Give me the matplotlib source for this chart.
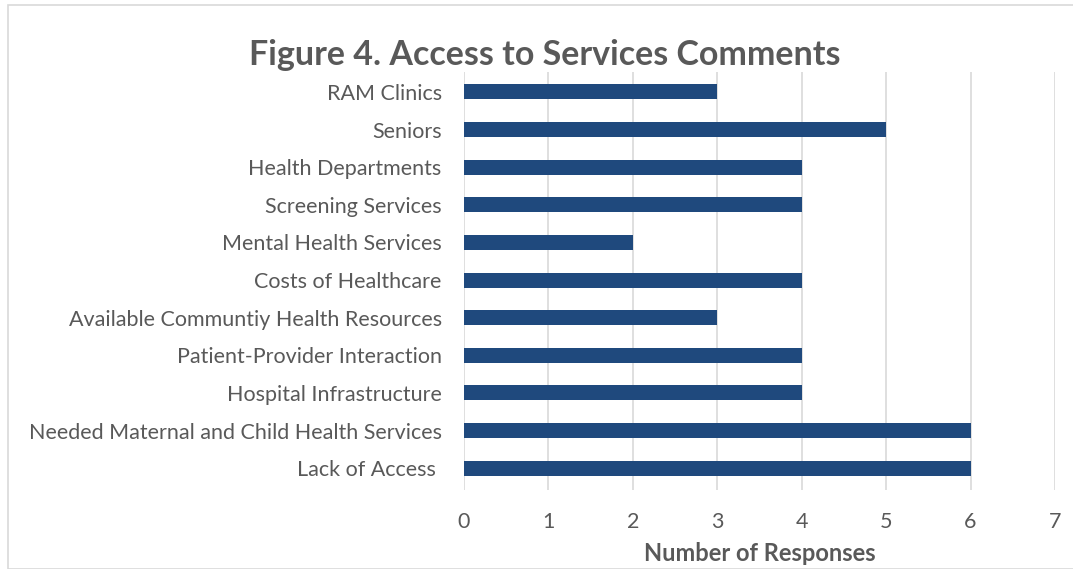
import matplotlib.pyplot as plt
from matplotlib.patches import Rectangle

# Categories listed bottom to top
categories = [
    "Lack of Access ", "Needed Maternal and Child Health Services",
    "Hospital Infrastructure", "Patient-Provider Interaction",
    "Available Communtiy Health Resources", "Costs of Healthcare",
    "Mental Health Services", "Screening Services",
    "Health Departments", "Seniors", "RAM Clinics",
]
responses = [6, 6, 4, 4, 3, 4, 2, 4, 4, 5, 3]
x_ticks = [0, 1, 2, 3, 4, 5, 6, 7]

text_color = "#595959"
plt.rcParams["font.family"] = ["Lato", "DejaVu Sans"]

fig = plt.figure(figsize=(10.73, 5.69), dpi=100)
ax = fig.add_axes([0.4324, 0.1388, 0.5508, 0.7347])

ax.barh(range(len(categories)), responses, height=0.4, color="#1F497D", zorder=3)

ax.set_xlim(0, 7)
ax.set_ylim(-0.58, len(categories) - 0.47)
ax.set_xticks(x_ticks)
ax.set_yticks(range(len(categories)))
ax.set_yticklabels(categories)
ax.tick_params(axis="y", length=0, pad=16, labelsize=15.5, labelcolor=text_color)
ax.tick_params(axis="x", length=0, pad=16, labelsize=15.5, labelcolor=text_color)
ax.grid(axis="x", color="#d9d9d9", linewidth=1.2, zorder=0)
for s in ax.spines.values():
    s.set_visible(False)

ax.set_xlabel("Number of Responses", fontsize=17, fontweight="bold",
              color=text_color, labelpad=7)
fig.text(0.508, 0.903, "Figure 4. Access to Services Comments", ha="center",
         va="center", fontsize=24.5, fontweight="bold", color=text_color)

# light frame round the chart area
fig.patches.append(Rectangle((0.007, 0.0), 0.995, 0.991, transform=fig.transFigure,
                             fill=False, edgecolor="#d9d9d9", linewidth=1.2))

fig.savefig("out.png", dpi=100)
